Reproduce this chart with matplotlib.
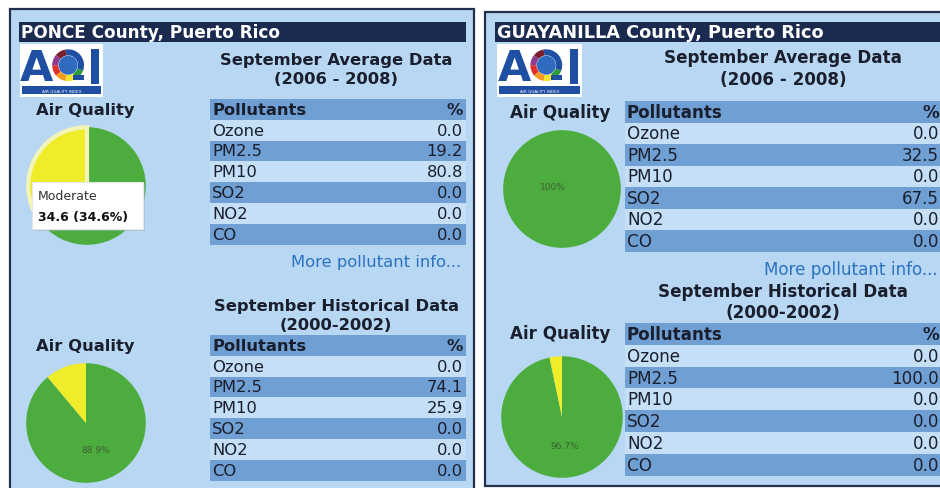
import matplotlib
matplotlib.use("Agg")
import matplotlib.pyplot as plt
from matplotlib.patches import Rectangle, Wedge, Circle

# ---------------- data ----------------
pollutants = ["Ozone", "PM2.5", "PM10", "SO2", "NO2", "CO"]
ponce_avg = [0.0, 19.2, 80.8, 0.0, 0.0, 0.0]
ponce_hist = [0.0, 74.1, 25.9, 0.0, 0.0, 0.0]
guay_avg = [0.0, 32.5, 0.0, 67.5, 0.0, 0.0]
guay_hist = [0.0, 100.0, 0.0, 0.0, 0.0, 0.0]

aq_categories = ["Good", "Moderate"]
ponce_avg_aq = [65.4, 34.6]
ponce_hist_aq = [88.9, 11.1]
guay_avg_aq = [100.0, 0.0]
guay_hist_aq = [96.7, 3.3]

counties = ["PONCE County, Puerto Rico", "GUAYANILLA County, Puerto Rico"]
avg_title = ["September Average Data", "(2006 - 2008)"]
hist_title = ["September Historical Data", "(2000-2002)"]

# ---------------- style ----------------
W, H = 940, 489
BG = "#b8d7f2"
LIGHT = "#c4dff6"
DARK = "#6f9fd3"
NAVY = "#1b2b50"
BORDER = "#22304d"
GREEN = "#4cad3e"
YELLOW = "#efec2a"
LINK = "#2b72c2"
TXT = "#1a1f2e"
plt.rcParams["font.family"] = ["DejaVu Sans"]

fig = plt.figure(figsize=(9.4, 4.89), dpi=100)
fig.patch.set_facecolor("white")
bg = fig.add_axes([0, 0, 1, 1])
bg.set_xlim(0, W)
bg.set_ylim(H, 0)
bg.axis("off")
top = fig.add_axes([0, 0, 1, 1], zorder=5)
top.set_xlim(0, W)
top.set_ylim(H, 0)
top.axis("off")
top.patch.set_alpha(0)


def draw_logo(x0, y0, w, h):
    bg.add_patch(Rectangle((x0, y0), w, h, facecolor="white", edgecolor="none"))
    blue = "#1f4fa3"
    bg.text(x0 + w * 0.2, y0 + h * 0.45, "A", color=blue, fontsize=31, fontweight="bold",
            ha="center", va="center")
    cx, cy, r = x0 + w * 0.58, y0 + h * 0.40, h * 0.30
    ring = ["#2e9b3a", "#f2e52a", "#f39a1f", "#e2312a", "#8e3b8f", "#7a1e2c"]
    for i, c in enumerate(ring):
        bg.add_patch(Wedge((cx, cy), r, 20 + i * 40, 60 + i * 40, width=r * 0.38,
                           facecolor=c, edgecolor="none"))
    bg.add_patch(Wedge((cx, cy), r, 260, 380, width=r * 0.38, facecolor=blue, edgecolor="none"))
    bg.add_patch(Circle((cx, cy), r * 0.6, facecolor="#2f6cc0", edgecolor="none"))
    bg.add_patch(Rectangle((cx + r * 0.3, cy + r * 0.6), r * 0.7, r * 0.35, facecolor=blue,
                           edgecolor="none"))
    bg.add_patch(Rectangle((x0 + w * 0.86, y0 + h * 0.1), w * 0.09, h * 0.66, facecolor=blue,
                           edgecolor="none"))
    bg.add_patch(Rectangle((x0 + 2, y0 + h * 0.80), w - 4, h * 0.15, facecolor=blue,
                           edgecolor="none"))
    bg.text(x0 + w / 2, y0 + h * 0.875, "AIR QUALITY INDEX", color="white", fontsize=3,
            ha="center", va="center")


def draw_table(x0, x1, y0, rh, values, fs):
    bg.add_patch(Rectangle((x0, y0), x1 - x0, rh, facecolor=DARK, edgecolor="none"))
    bg.text(x0 + 2, y0 + rh / 2, "Pollutants", fontsize=fs, fontweight="bold", color=TXT,
            ha="left", va="center")
    bg.text(x1 - 3, y0 + rh / 2, "%", fontsize=fs, fontweight="bold", color=TXT,
            ha="right", va="center")
    for i, (p, v) in enumerate(zip(pollutants, values)):
        yy = y0 + rh * (i + 1)
        col = DARK if i % 2 == 1 else LIGHT
        bg.add_patch(Rectangle((x0, yy), x1 - x0, rh, facecolor=col, edgecolor="none"))
        bg.text(x0 + 2, yy + rh / 2, p, fontsize=fs, color=TXT, ha="left", va="center")
        bg.text(x1 - 3, yy + rh / 2, f"{v:.1f}", fontsize=fs, color=TXT, ha="right",
                va="center")


def draw_pie(cx, cy, r, vals):
    ax = fig.add_axes([(cx - r) / W, 1 - (cy + r) / H, 2 * r / W, 2 * r / H], zorder=2)
    ax.set_facecolor("none")

    def fmt(p):
        if p >= 99.95:
            return "100%"
        return f"{p:.1f}%" if p > 50 else ""

    wedges, texts, autotexts = ax.pie(vals, colors=[GREEN, YELLOW], startangle=90,
                                      counterclock=False, autopct=fmt, pctdistance=0.47,
                                      wedgeprops=dict(linewidth=0),
                                      textprops=dict(fontsize=6.5, color="#3f5e35"))
    if vals[0] >= 99.95:
        autotexts[0].set_position((-0.15, 0.05))
    ax.set_xlim(-1.02, 1.02)
    ax.set_ylim(-1.02, 1.02)
    ax.set_aspect("equal")
    ax.axis("off")
    return ax, wedges


# ---------------- panels ----------------
bg.add_patch(Rectangle((10, 10), 464, 500, facecolor=BG, edgecolor=BORDER, linewidth=1.6))
bg.add_patch(Rectangle((485, 13), 500, 474, facecolor=BG, edgecolor=BORDER, linewidth=1.6))

panels = [
    dict(x0=10, bar=(19, 466), logo=(20, 45, 83, 53), mid=336, aqx=85,
         t1y=(60, 80), aqy1=111, tab1=(210, 466, 100, 20.8), vals1=ponce_avg,
         pie1=(87, 187, 60), aq1=ponce_avg_aq,
         more=(461, 262), t2y=(306, 326), aqy2=346, tab2=(210, 466, 336, 20.8),
         vals2=ponce_hist, pie2=(86, 424, 61), aq2=ponce_hist_aq, fs=11.8, tfs=12.2),
    dict(x0=485, bar=(495, 945), logo=(497, 45, 85, 53), mid=783, aqx=560,
         t1y=(58, 80), aqy1=113, tab1=(625, 942, 102, 21.5), vals1=guay_avg,
         pie1=(562, 190, 60), aq1=guay_avg_aq,
         more=(938, 270), t2y=(292, 313), aqy2=334, tab2=(625, 942, 324, 21.8),
         vals2=guay_hist, pie2=(562, 418, 62), aq2=guay_hist_aq, fs=12.1, tfs=12.8),
]

pie_axes = []
for name, P in zip(counties, panels):
    fs = P["fs"]
    b0, b1 = P["bar"]
    bg.add_patch(Rectangle((b0, 23), b1 - b0, 20, facecolor=NAVY, edgecolor="none"))
    bg.text(b0 + 2, 33.5, name, color="white", fontsize=P["tfs"], fontweight="bold",
            ha="left", va="center")
    draw_logo(*P["logo"])
    bg.text(P["mid"], P["t1y"][0], avg_title[0], fontsize=fs, fontweight="bold", color=TXT,
            ha="center", va="center")
    bg.text(P["mid"], P["t1y"][1], avg_title[1], fontsize=fs, fontweight="bold", color=TXT,
            ha="center", va="center")
    bg.text(P["aqx"], P["aqy1"], "Air Quality", fontsize=fs, fontweight="bold", color=TXT,
            ha="center", va="center")
    draw_table(*P["tab1"], P["vals1"], fs)
    bg.text(P["more"][0], P["more"][1], "More pollutant info...", fontsize=fs, color=LINK,
            ha="right", va="center")
    bg.text(P["mid"], P["t2y"][0], hist_title[0], fontsize=fs, fontweight="bold", color=TXT,
            ha="center", va="center")
    bg.text(P["mid"], P["t2y"][1], hist_title[1], fontsize=fs, fontweight="bold", color=TXT,
            ha="center", va="center")
    bg.text(P["aqx"], P["aqy2"], "Air Quality", fontsize=fs, fontweight="bold", color=TXT,
            ha="center", va="center")
    draw_table(*P["tab2"], P["vals2"], fs)
    pie_axes.append(draw_pie(*P["pie1"], P["aq1"]))
    draw_pie(*P["pie2"], P["aq2"])

# hover highlight on the Ponce moderate slice + tooltip
ax0, w0 = pie_axes[0]
w0[1].set_edgecolor("#f3f5b8")
w0[1].set_linewidth(3)
top.add_patch(Rectangle((34, 185), 111, 47, facecolor="#9bb0c4", edgecolor="none", alpha=0.5))
top.add_patch(Rectangle((32, 183), 111, 47, facecolor="white", edgecolor="#e6e6e6",
                        linewidth=0.8))
top.text(38, 196, aq_categories[1], fontsize=9, color="#333333", ha="left", va="center")
top.text(38, 217, f"{ponce_avg_aq[1]:.1f} ({ponce_avg_aq[1]:.1f}%)", fontsize=9,
         fontweight="bold", color="#111111", ha="left", va="center")

fig.savefig("out.png", dpi=100, facecolor="white")
